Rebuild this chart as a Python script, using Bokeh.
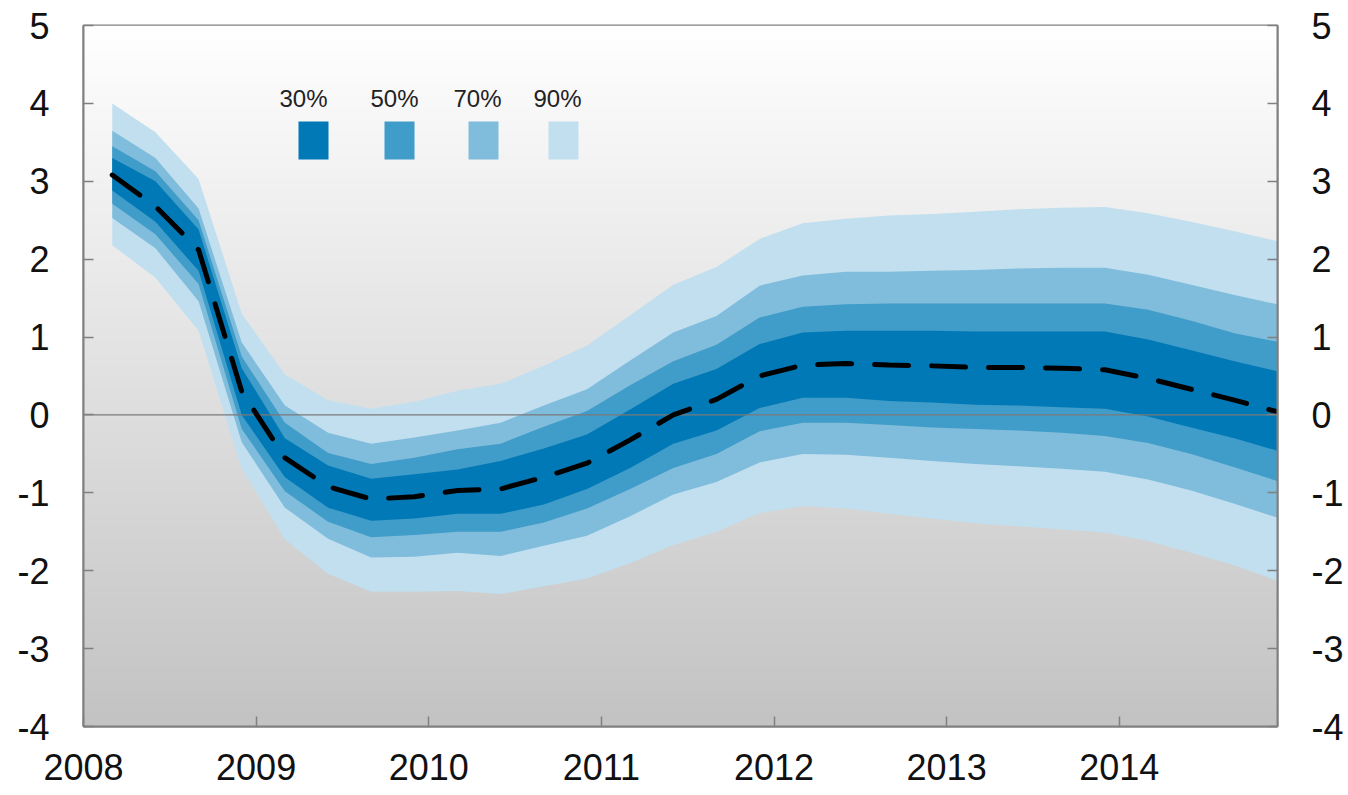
import numpy as np
from bokeh.plotting import figure
from bokeh.models import Range1d, FixedTicker, LinearAxis, Label
from bokeh.embed import file_html
from bokeh.resources import INLINE

# ---------------- data (quarterly, 2008Q1 .. 2014Q4) ----------------
quarters = [f"{yr}Q{q}" for yr in range(2008, 2015) for q in range(1, 5)]

center = [3.08, 2.68, 2.12, 0.30, -0.55, -0.92, -1.08, -1.05, -0.97, -0.95,
          -0.80, -0.62, -0.32, 0.00, 0.20, 0.50, 0.64, 0.66, 0.64, 0.63,
          0.61, 0.61, 0.60, 0.58, 0.47, 0.33, 0.19, 0.04]

upper90 = [4.00, 3.63, 3.03, 1.30, 0.52, 0.19, 0.08, 0.17, 0.31, 0.40,
           0.63, 0.89, 1.28, 1.67, 1.90, 2.26, 2.46, 2.52, 2.56, 2.58,
           2.61, 2.64, 2.66, 2.67, 2.59, 2.48, 2.36, 2.23]
upper70 = [3.65, 3.30, 2.65, 0.93, 0.12, -0.23, -0.37, -0.29, -0.20, -0.10,
           0.12, 0.33, 0.70, 1.06, 1.27, 1.66, 1.79, 1.84, 1.84, 1.85,
           1.86, 1.88, 1.89, 1.89, 1.80, 1.67, 1.54, 1.42]
upper50 = [3.45, 3.13, 2.50, 0.75, -0.10, -0.49, -0.63, -0.55, -0.44, -0.37,
           -0.15, 0.05, 0.38, 0.69, 0.90, 1.25, 1.39, 1.42, 1.43, 1.43,
           1.43, 1.43, 1.43, 1.43, 1.35, 1.21, 1.05, 0.94]
upper30 = [3.30, 3.00, 2.38, 0.60, -0.30, -0.65, -0.82, -0.76, -0.70, -0.59,
           -0.43, -0.25, 0.07, 0.40, 0.59, 0.91, 1.06, 1.08, 1.08, 1.08,
           1.07, 1.07, 1.07, 1.07, 0.97, 0.83, 0.69, 0.56]
lower30 = [2.88, 2.48, 1.85, 0.00, -0.80, -1.19, -1.36, -1.33, -1.27, -1.27,
           -1.15, -0.95, -0.68, -0.37, -0.20, 0.09, 0.22, 0.22, 0.18, 0.16,
           0.13, 0.12, 0.10, 0.08, -0.02, -0.16, -0.30, -0.46]
lower50 = [2.71, 2.32, 1.68, -0.18, -0.98, -1.37, -1.57, -1.54, -1.50, -1.50,
           -1.38, -1.20, -0.95, -0.68, -0.50, -0.21, -0.10, -0.10, -0.13, -0.16,
           -0.18, -0.20, -0.23, -0.27, -0.36, -0.50, -0.67, -0.85]
lower70 = [2.53, 2.14, 1.46, -0.35, -1.19, -1.59, -1.83, -1.82, -1.77, -1.81,
           -1.68, -1.55, -1.30, -1.02, -0.86, -0.61, -0.50, -0.51, -0.55, -0.59,
           -0.63, -0.66, -0.69, -0.73, -0.83, -0.97, -1.14, -1.32]
lower90 = [2.18, 1.76, 1.08, -0.69, -1.60, -2.04, -2.27, -2.27, -2.26, -2.30,
           -2.20, -2.10, -1.90, -1.67, -1.50, -1.26, -1.17, -1.20, -1.27, -1.33,
           -1.39, -1.43, -1.47, -1.51, -1.62, -1.77, -1.93, -2.13]

band_labels = ["30%", "50%", "70%", "90%"]
band_colors = ["#0079b6", "#409cc8", "#80bcdb", "#c1dfef"]
x_ticks = [2008, 2009, 2010, 2011, 2012, 2013, 2014]
x_tick_labels = ["2008", "2009", "2010", "2011", "2012", "2013", "2014"]
y_ticks = [-4, -3, -2, -1, 0, 1, 2, 3, 4, 5]
y_tick_labels = ["-4", "-3", "-2", "-1", "0", "1", "2", "3", "4", "5"]

# decimal-year position of each quarter's observation
x = [int(s[:4]) + (int(s[5]) - 1 + 2 / 3) / 4 for s in quarters]

# ---------------- layout ----------------
W, H = 1348, 795
FL, FR, FT, FB = 83, 1277, 25, 726   # frame edges in canvas px
X0, X1 = 2008, x[-1]
Y0, Y1 = -4, 5
FONT = "Liberation Sans"

p = figure(width=W, height=H, output_backend="svg", toolbar_location=None,
           x_range=Range1d(X0, X1), y_range=Range1d(Y0, Y1),
           min_border_left=FL, min_border_right=W - FR,
           min_border_top=FT, min_border_bottom=H - FB)
p.border_fill_color = "white"
p.background_fill_color = "white"
p.xgrid.grid_line_color = None
p.ygrid.grid_line_color = None
p.outline_line_color = "#808080"
p.outline_line_width = 2


def px2x(px):
    return X0 + (px - FL) / (FR - FL) * (X1 - X0)


def py2y(py):
    return Y1 - (py - FT) / (FB - FT) * (Y1 - Y0)


# gradient background
N = 256
g = np.linspace(195, 255, N).astype(np.uint8)
img = np.empty((N, 1), dtype=np.uint32)
view = img.view(dtype=np.uint8).reshape((N, 1, 4))
view[:, 0, 0] = g
view[:, 0, 1] = g
view[:, 0, 2] = g
view[:, 0, 3] = 255
p.image_rgba(image=[img], x=X0, y=Y0, dw=X1 - X0, dh=Y1 - Y0)

# fan bands
p.varea(x=x, y1=lower90, y2=upper90, fill_color=band_colors[3])
p.varea(x=x, y1=lower70, y2=upper70, fill_color=band_colors[2])
p.varea(x=x, y1=lower50, y2=upper50, fill_color=band_colors[1])
p.varea(x=x, y1=lower30, y2=upper30, fill_color=band_colors[0])

# zero line
p.line(x=[X0, X1], y=[0, 0], line_color="#7a7a7a", line_width=1.2)

# central projection
p.line(x=x, y=center, line_color="black", line_width=5,
       line_dash="34 23", line_cap="round")

# legend
sq_left = [298, 384, 468, 548]
lab_cx = [303, 394, 477, 557]
for lab, col, sl, lc in zip(band_labels, band_colors, sq_left, lab_cx):
    p.quad(left=px2x(sl), right=px2x(sl + 30), top=py2y(121), bottom=py2y(159),
           fill_color=col, line_color=None)
    p.add_layout(Label(x=px2x(lc), y=py2y(98), text=lab, text_align="center",
                       text_baseline="alphabetic", text_font=FONT,
                       text_font_size="24px", text_color="#222222"))


# axes
def style_axis(ax, standoff, ticks):
    ax.ticker = FixedTicker(ticks=ticks)
    ax.axis_line_color = "#808080"
    ax.axis_line_width = 2
    ax.major_tick_in = 10
    ax.major_tick_out = 0
    ax.major_tick_line_color = "#808080"
    ax.major_tick_line_width = 1.5
    ax.minor_tick_line_color = None
    ax.major_label_text_font = FONT
    ax.major_label_text_font_size = "36px"
    ax.major_label_text_color = "#111111"
    ax.major_label_standoff = standoff


ylab = dict(zip(y_ticks, y_tick_labels))
style_axis(p.yaxis[0], 34, y_ticks)
p.yaxis[0].major_label_overrides = ylab
right = LinearAxis()
style_axis(right, 34, y_ticks)
right.major_label_overrides = ylab
p.add_layout(right, "right")

xa = p.xaxis[0]
style_axis(xa, 27, x_ticks)
xa.major_label_overrides = dict(zip(x_ticks, x_tick_labels))

open("out.html", "w").write(file_html(p, INLINE))
